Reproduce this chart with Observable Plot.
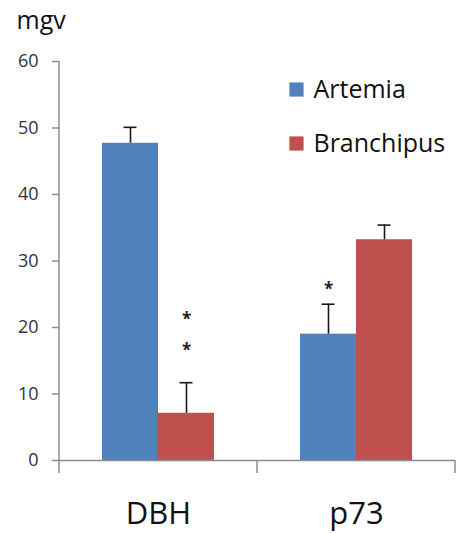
<!DOCTYPE html>
<html>
<head>
<meta charset="utf-8">
<script src="https://cdn.jsdelivr.net/npm/d3@7"></script>
<script src="https://cdn.jsdelivr.net/npm/@observablehq/plot@0.6"></script>
<style>
  html, body { margin: 0; padding: 0; background: #fff; }
  #chart { width: 458px; height: 533px; }
</style>
</head>
<body>
<div id="chart"></div>
<script>
// ---- data ----
const genes = ["DBH", "p73"];
const species = ["Artemia", "Branchipus"];
const artemiaMean = [47.7, 19.0];
const artemiaErr = [2.4, 4.5];
const branchipusMean = [7.1, 33.2];
const branchipusErr = [4.6, 2.2];
const yTicks = [0, 10, 20, 30, 40, 50, 60];
const yLabel = "mgv";
// significance asterisks
const starGene = ["DBH", "DBH", "p73"];
const starSpecies = ["Branchipus", "Branchipus", "Artemia"];
const starY = [21.7, 17.0, 26.2];
const colors = ["#4F81BD", "#C0504D"];

// ---- tables built from the arrays ----
const means = [artemiaMean, branchipusMean];
const errs = [artemiaErr, branchipusErr];
const rows = [];
species.forEach((s, si) => genes.forEach((g, gi) => {
  rows.push({gene: g, species: s, value: means[si][gi], err: errs[si][gi]});
}));
const stars = starY.map((y, i) => ({gene: starGene[i], species: starSpecies[i], y}));

const axisGray = "#8c8c8c";
const errColor = "#1a1a1a";

const legendMarks = species.flatMap((s, i) => [
  Plot.dot([{gene: genes[1]}], {fx: "gene", frameAnchor: "top-left", dx: 39, dy: 28 + i * 54,
    symbol: "square", r: 8, fill: colors[i]}),
  Plot.text([{gene: genes[1]}], {fx: "gene", frameAnchor: "top-left", dx: 56, dy: 28 + i * 54,
    text: () => s, textAnchor: "start", lineAnchor: "middle", fontSize: 25, fill: "#111"})
]);

const plot = Plot.plot({
  width: 458,
  height: 533,
  marginLeft: 58,
  marginRight: 3,
  marginTop: 61,
  marginBottom: 73,
  style: {fontFamily: "'Open Sans', sans-serif", fontSize: "18px", background: "#fff"},
  fx: {domain: genes, padding: 0, label: null},
  x: {domain: species, paddingInner: 0, paddingOuter: 0.757, axis: null},
  y: {domain: [0, 60]},
  color: {domain: species, range: colors},
  marks: [
    Plot.barY(rows, {fx: "gene", x: "species", y: "value", fill: "species"}),
    Plot.ruleX(rows, {fx: "gene", x: "species", y1: "value", y2: d => d.value + d.err,
      stroke: errColor, strokeWidth: 1.6}),
    Plot.tickY(rows, {fx: "gene", x: "species", y: d => d.value + d.err,
      stroke: errColor, strokeWidth: 1.6, insetLeft: 21.5, insetRight: 21.5}),
    Plot.ruleY([0], {stroke: axisGray, strokeWidth: 1.5}),
    Plot.text(stars, {fx: "gene", x: "species", y: "y", text: () => "*",
      fontSize: 17, fontWeight: "bold", fill: "#222", lineAnchor: "middle", dy: 3}),
    Plot.axisY({ticks: yTicks, tickSize: 7, tickPadding: 14, fontSize: 18,
      stroke: axisGray, strokeWidth: 1.5, fill: "#333", label: null}),
    Plot.axisFx({anchor: "bottom", tickSize: 0, tickPadding: 41, fontSize: 31,
      fill: "#111", label: null}),
    Plot.text([{gene: genes[0]}], {fx: "gene", frameAnchor: "top-left", dx: -43, dy: -40.7,
      text: () => yLabel, textAnchor: "start", lineAnchor: "middle", fontSize: 25, fill: "#111"}),
    ...legendMarks
  ]
});

// axis lines and category separators, positioned by Plot's own scales
const fxs = plot.scale("fx");
const ys = plot.scale("y");
const svg = d3.select(plot);
const y0 = ys.apply(0);
const yTop = ys.apply(yTicks[yTicks.length - 1]);
const xLeft = fxs.apply(genes[0]);
const g = svg.append("g").attr("stroke", axisGray).attr("stroke-width", 1.5);
g.append("line").attr("x1", xLeft).attr("x2", xLeft).attr("y1", yTop).attr("y2", y0);
const edges = genes.map(d => fxs.apply(d)).concat([fxs.apply(genes[genes.length - 1]) + fxs.bandwidth]);
edges.forEach(x => {
  g.append("line").attr("x1", x).attr("x2", x).attr("y1", y0).attr("y2", y0 + 13);
});

document.getElementById("chart").appendChild(plot);
</script>
</body>
</html>
